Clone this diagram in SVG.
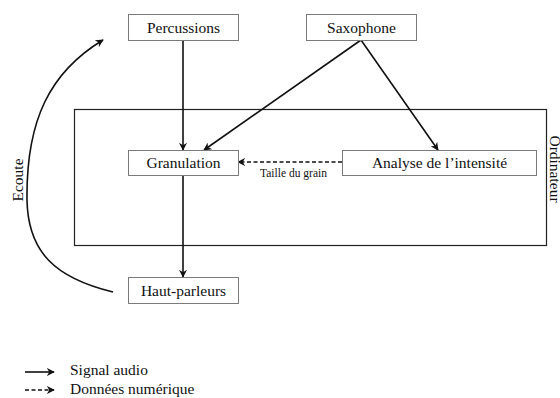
<svg xmlns="http://www.w3.org/2000/svg" width="560" height="398" viewBox="0 0 560 398">
<style>
.box{fill:#fff;stroke:#7a7a7a;stroke-width:1}
.lbl{font-family:"Liberation Serif","Times New Roman",serif;font-size:15.5px;fill:#111;text-anchor:middle}
.leg{font-family:"Liberation Serif","Times New Roman",serif;font-size:15.5px;fill:#111;text-anchor:start}
.small{font-family:"Liberation Serif","Times New Roman",serif;font-size:11.5px;fill:#111;text-anchor:middle}
.conn{fill:none;stroke:#111;stroke-width:1.6}
.dash{stroke-dasharray:4 2.5}
</style>
<defs>
<marker id="ah" viewBox="0 0 10 10" refX="9" refY="5" markerWidth="8" markerHeight="8" markerUnits="userSpaceOnUse" orient="auto">
<path d="M0,0 L10,5 L0,10 L3,5 Z" fill="#111"/>
</marker>
</defs>
<rect x="0" y="0" width="560" height="398" fill="#fff"/>
<g id="ordinateur">
<rect x="74.5" y="109.5" width="472" height="136" fill="none" stroke="#222" stroke-width="1.2"/>
<text class="lbl" transform="translate(550,169) rotate(90)">Ordinateur</text>
</g>
<g id="connectors">
<line class="conn" x1="183" y1="40" x2="183" y2="150" marker-end="url(#ah)"/>
<line class="conn" x1="361" y1="40" x2="204" y2="150" marker-end="url(#ah)"/>
<line class="conn" x1="361" y1="40" x2="438" y2="150" marker-end="url(#ah)"/>
<line class="conn dash" x1="342" y1="162" x2="238" y2="162" marker-end="url(#ah)"/>
<text class="small" x="293.5" y="177">Taille du grain</text>
<line class="conn" x1="183" y1="175" x2="183" y2="277" marker-end="url(#ah)"/>
<path class="conn" d="M113,292 C55,278 28,252 27,200 C26,120 50,72 103,40" marker-end="url(#ah)"/>
<text class="lbl" transform="translate(23,180) rotate(-90)">Ecoute</text>
</g>
<g id="percussions">
<rect class="box" x="128.5" y="14.5" width="110" height="26"/>
<text class="lbl" x="183.5" y="33">Percussions</text>
</g>
<g id="saxophone">
<rect class="box" x="306.5" y="14.5" width="110" height="26"/>
<text class="lbl" x="361.5" y="33">Saxophone</text>
</g>
<g id="granulation">
<rect class="box" x="128.5" y="150.5" width="110" height="25"/>
<text class="lbl" x="183.5" y="168">Granulation</text>
</g>
<g id="analyse">
<rect class="box" x="342.5" y="150.5" width="194" height="25"/>
<text class="lbl" x="439.5" y="168">Analyse de l’intensité</text>
</g>
<g id="hautparleurs">
<rect class="box" x="128.5" y="277.5" width="110" height="26"/>
<text class="lbl" x="183.5" y="296">Haut-parleurs</text>
</g>
<g id="legend">
<line class="conn" x1="25" y1="372" x2="54" y2="372" marker-end="url(#ah)"/>
<text class="leg" x="70" y="375">Signal audio</text>
<line class="conn dash" x1="25" y1="390" x2="54" y2="390" marker-end="url(#ah)"/>
<text class="leg" x="70" y="394">Données numérique</text>
</g>
</svg>
